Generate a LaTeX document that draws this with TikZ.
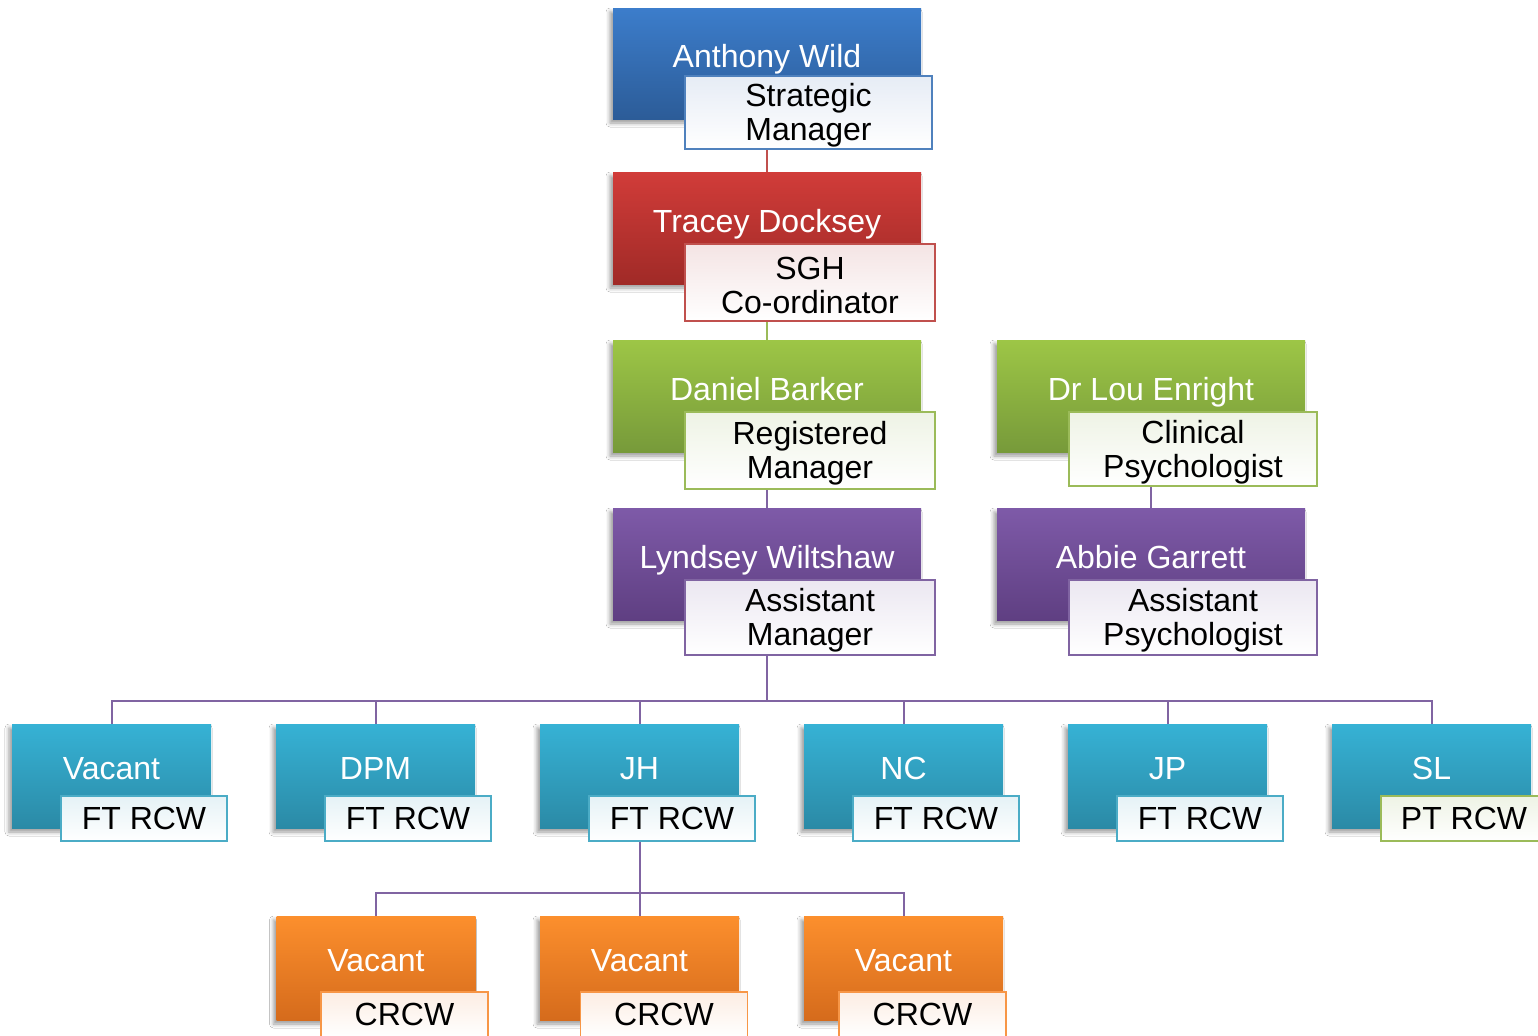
\documentclass[tikz,border=0pt]{standalone}
\usepackage{fontspec}
\setmainfont{Liberation Sans}
\usetikzlibrary{shadows,shadows.blur,calc,backgrounds}
\definecolor{bTop}{HTML}{3C7DCB}\definecolor{bBot}{HTML}{2C5C98}\definecolor{bLine}{HTML}{4F81BD}\definecolor{bTint}{HTML}{E6ECF5}
\definecolor{rTop}{HTML}{D13C39}\definecolor{rBot}{HTML}{A02A27}\definecolor{rLine}{HTML}{C0504D}\definecolor{rTint}{HTML}{F4E4E4}
\definecolor{gTop}{HTML}{9DC646}\definecolor{gBot}{HTML}{779A3A}\definecolor{gLine}{HTML}{9BBB59}\definecolor{gTint}{HTML}{EEF3E5}
\definecolor{pTop}{HTML}{7E5AA8}\definecolor{pBot}{HTML}{5F3F82}\definecolor{pLine}{HTML}{8064A2}\definecolor{pTint}{HTML}{EBE7F1}
\definecolor{tTop}{HTML}{36B2D5}\definecolor{tBot}{HTML}{2B8AA6}\definecolor{tLine}{HTML}{4BACC6}\definecolor{tTint}{HTML}{E5F2F6}
\definecolor{oTop}{HTML}{FC8F2D}\definecolor{oBot}{HTML}{D56B1C}\definecolor{oLine}{HTML}{F79646}\definecolor{oTint}{HTML}{FCEDE3}
\tikzset{
  mainbox/.style={rectangle, inner sep=0pt, draw=none, minimum width=154pt, minimum height=56pt,
    blur shadow={shadow xshift=-1.5pt, shadow yshift=-2pt, shadow blur radius=2pt, shadow opacity=40}},
  smallmain/.style={mainbox, minimum width=99.5pt, minimum height=52pt},
  subbox/.style={rectangle, inner sep=0pt, line width=0.75pt, align=center, minimum width=125pt, minimum height=37.5pt,
    font=\fontsize{16}{17}\selectfont, text=black},
  smallsub/.style={subbox, minimum width=83pt, minimum height=22.5pt},
  subtext/.style={align=center, inner sep=0pt, text=black, font=\fontsize{16}{17}\selectfont, yshift=-1.5pt},
  nametext/.style={text=white, inner sep=0pt, anchor=base, font=\fontsize{16}{17}\selectfont},
  conn/.style={line width=1pt},
  blueM/.style={top color=bTop, bottom color=bBot},
  redM/.style={top color=rTop, bottom color=rBot},
  greenM/.style={top color=gTop, bottom color=gBot},
  purpM/.style={top color=pTop, bottom color=pBot},
  tealM/.style={top color=tTop, bottom color=tBot},
  orngM/.style={top color=oTop, bottom color=oBot},
  blueS/.style={draw=bLine, top color=bTint, bottom color=white},
  redS/.style={draw=rLine, top color=rTint, bottom color=white},
  greenS/.style={draw=gLine, top color=gTint, bottom color=white},
  purpS/.style={draw=pLine, top color=pTint, bottom color=white},
  tealS/.style={draw=tLine, top color=tTint, bottom color=white},
  orngS/.style={draw=oLine, top color=oTint, bottom color=white},
}
\begin{document}
\begin{tikzpicture}[x=0.5pt,y=-0.5pt]
\useasboundingbox (0,0) rectangle (1538,1035);
\clip (0,0) rectangle (1538,1035);
% top chain
\node[mainbox, blueM, minimum height=55.5pt] (aw) at (767,63.5) {};
\node[nametext] (awn) at ($(aw.north)+(0,60)$) {Anthony Wild};
\node[subbox, blueS, minimum width=123.5pt, minimum height=36.5pt] (aws) at (808.5,112.5) {};
\node[subtext] (awt) at (aws.center) {Strategic\\Manager};

\node[mainbox, redM] (td) at (767,228) {};
\node[nametext] (tdn) at ($(td.north)+(0,61)$) {Tracey Docksey};
\node[subbox, redS, minimum height=38.5pt] (tds) at (810,282.5) {};
\node[subtext] (tdt) at (tds.center) {SGH\\Co-ordinator};

\node[mainbox, greenM] (db) at (767,396) {};
\node[nametext] (dbn) at ($(db.north)+(0,61)$) {Daniel Barker};
\node[subbox, greenS, minimum height=38.5pt] (dbs) at (810,450.5) {};
\node[subtext] (dbt) at (dbs.center) {Registered\\Manager};

\node[mainbox, greenM] (le) at (1151,396) {};
\node[nametext] (len) at ($(le.north)+(0,61)$) {Dr Lou Enright};
\node[subbox, greenS, minimum width=124pt, minimum height=37pt] (les) at (1193,449) {};
\node[subtext] (let) at (les.center) {Clinical\\Psychologist};

\node[mainbox, purpM] (lw) at (767,564) {};
\node[nametext] (lwn) at ($(lw.north)+(0,61)$) {Lyndsey Wiltshaw};
\node[subbox, purpS] (lws) at (810,617.5) {};
\node[subtext] (lwt) at (lws.center) {Assistant\\Manager};

\node[mainbox, purpM] (ag) at (1151,564) {};
\node[nametext] (agn) at ($(ag.north)+(0,61)$) {Abbie Garrett};
\node[subbox, purpS, minimum width=124pt] (ags) at (1193,617.5) {};
\node[subtext] (agt) at (ags.center) {Assistant\\Psychologist};

% RCW row
\foreach \i/\x/\nm/\role/\sty in {1/111.5/Vacant/FT RCW/tealS, 2/375.5/DPM/FT RCW/tealS, 3/639.5/JH/FT RCW/tealS,
    4/903.5/NC/FT RCW/tealS, 5/1167.5/JP/FT RCW/tealS, 6/1431.5/SL/PT RCW/greenS}{
  \node[smallmain, tealM] (t\i) at (\x,776) {};
  \node[nametext] (t\i n) at ($(t\i.north)+(0,56)$) {\nm};
  \node[smallsub, \sty] (t\i s) at ($(t\i.center)+(32.5,42.5)$) {\role};
}
% CRCW row
\foreach \i/\x/\dx in {1/376/28.5, 2/639.5/24.5, 3/903.5/19}{
  \node[smallmain, orngM] (o\i) at (\x,968) {};
  \node[nametext] (o\i n) at ($(o\i.north)+(0,56)$) {Vacant};
  \node[smallsub, orngS, minimum width=83.5pt] (o\i s) at ($(o\i.center)+(\dx,46.5)$) {CRCW};
}
\coordinate (bus1) at (767,701);
\coordinate (bus2) at (639.5,893);
\begin{scope}[on background layer]
  \fill[white] (0,0) rectangle (1538,1035);
  \draw[conn, rLine] (aw.south) -- (td.north);
  \draw[conn, gLine] (td.south) -- (db.north);
  \draw[conn, pLine] (db.south) -- (lw.north);
  \draw[conn, pLine] (le.south) -- (ag.north);
  \foreach \i in {1,...,6}{\draw[conn, pLine] (lw.south) -- (bus1) -| (t\i.north);}
  \foreach \i in {1,2,3}{\draw[conn, pLine] (t3.south) -- (bus2) -| (o\i.north);}
\end{scope}
\end{tikzpicture}
\end{document}
